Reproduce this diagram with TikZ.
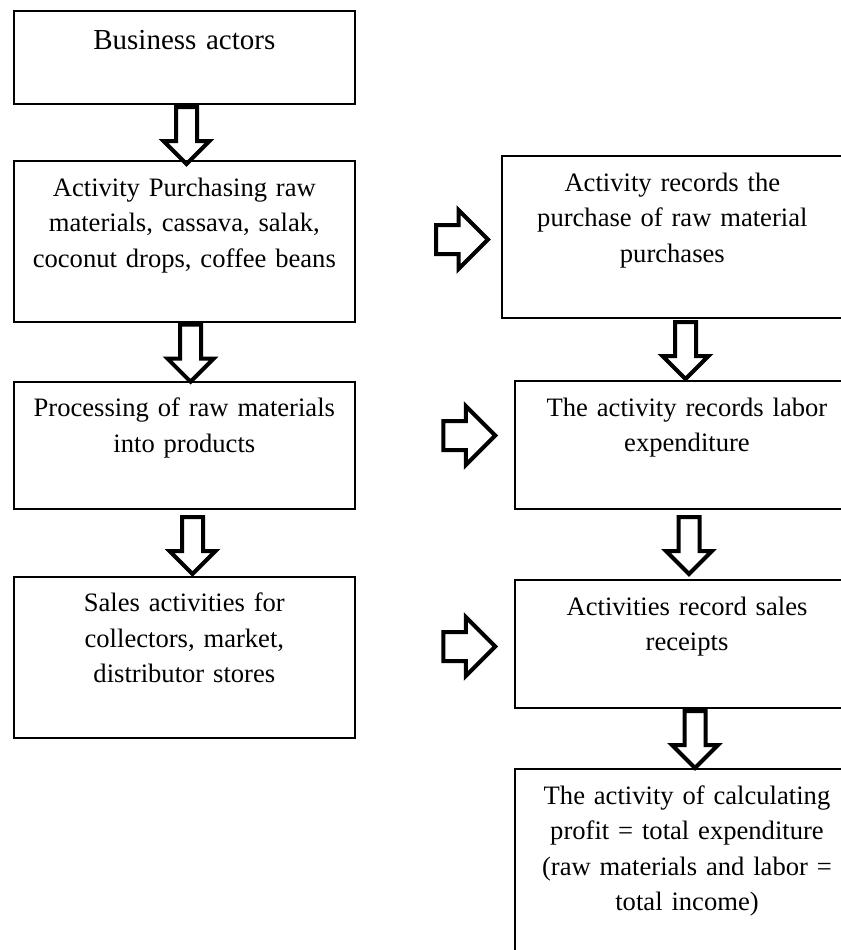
\documentclass[tikz,border=0pt]{standalone}
\usepackage{fontspec}
\setmainfont{Liberation Serif}
\usetikzlibrary{shapes.arrows}

\begin{document}
\begin{tikzpicture}
	[x=0.5pt, y=-0.5pt,
	boxstyle/.style={rectangle, draw, line width=1pt, anchor=north west, inner sep=0pt, text width=170.65pt, align=center, text height=17.5pt, font=\fontsize{13.3}{17.8}\selectfont},
	wideboxstyle/.style={boxstyle, text width=172pt},
	downarrow/.style={single arrow, draw, line width=2pt, rotate=-90, anchor=tail, inner xsep=0pt, inner ysep=4.25pt, minimum height=28.5pt, single arrow head extend=6.25pt},
	rightarrow/.style={single arrow, draw, line width=2pt, anchor=tail, inner xsep=0pt, inner ysep=6.25pt, minimum height=26pt, single arrow head extend=7.5pt}
	]
	
	%Set params
	\def\leftx{12.7}
	\def\rightx{514}
	
	\path[use as bounding box, clip] (0,0) rectangle (841,950);
	
	%Left column
	\node(Actors)[boxstyle, text height=19pt, text depth=27.5pt, font=\fontsize{14.5}{17.8}\selectfont] at (\leftx,10) {Business actors};
	\node(Purchasing)[boxstyle, text depth=62.85pt] at (\leftx,160) {Activity Purchasing raw\\materials, cassava, salak,\\coconut drops, coffee beans};
	\node(Processing)[boxstyle, text depth=46pt] at (\leftx,380.7) {Processing of raw materials\\into products};
	\node(Sales)[boxstyle, text depth=63pt] at (\leftx,575.7) {Sales activities for\\collectors, market,\\distributor stores};
	
	%Right column
	\node(RecPurchase)[boxstyle, text depth=63.35pt] at (500.7,155) {Activity records the\\purchase of raw material\\purchases};
	\node(RecLabor)[wideboxstyle, text depth=46.35pt] at (\rightx,380) {The activity records labor\\expenditure};
	\node(RecSales)[wideboxstyle, text depth=46.5pt] at (\rightx,579) {Activities record sales\\receipts};
	\node(Profit)[wideboxstyle, text depth=98.5pt] at (\rightx,768) {The activity of calculating\\profit = total expenditure\\(raw materials and labor =\\total income)};
	
	%Down arrows
	\node(ActorsPurch)[downarrow] at ([xshift=1.1pt]Actors.south) {};
	\node(PurchProc)[downarrow] at ([xshift=3.1pt]Purchasing.south) {};
	\node(ProcSales)[downarrow] at ([xshift=4.1pt, yshift=-2.65pt]Processing.south) {};
	\node(RecPurchLabor)[downarrow] at ([xshift=6.6pt, yshift=-0.65pt]RecPurchase.south) {};
	\node(RecLaborSales)[downarrow] at ([xshift=1pt, yshift=-2.65pt]RecLabor.south) {};
	\node(RecSalesProfit)[downarrow] at ([xshift=4pt]RecSales.south) {};
	
	%Right arrows
	\node(PurchRec)[rightarrow] at ([xshift=39pt, yshift=0.9pt]Purchasing.east) {};
	\node(ProcRec)[rightarrow] at ([xshift=42.65pt, yshift=4.85pt]Processing.east) {};
	\node(SalesRec)[rightarrow] at ([xshift=42.65pt, yshift=5.35pt]Sales.east) {};
	
\end{tikzpicture}
\end{document}
